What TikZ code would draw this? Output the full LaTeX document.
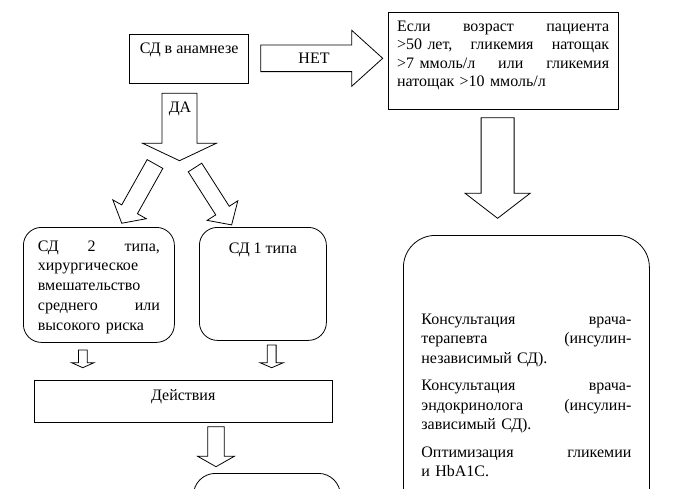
\documentclass[tikz,border=0pt]{standalone}
\usepackage{fontspec}
\setmainfont{Liberation Serif}
\usetikzlibrary{calc}

% glue that beats the ragged right of the node, for justified lines
\newcommand{\wgap}{\hskip 0pt plus 1filll\relax}

% hollow block arrow: start, tip, half shaft, half head, head length (pt)
\newcommand{\blockarrow}[5]{%
  \path let \p1=($(#2)-(#1)$) in
    \pgfextra{\pgfmathsetmacro\arrlen{veclen(\x1,\y1)}%
      \pgfmathsetmacro\arrang{atan2(\y1,\x1)}%
      \global\let\arrlen\arrlen \global\let\arrang\arrang};
  \draw[barrow, shift={(#1)}, rotate=\arrang]
    (0pt,#3pt) -- ({\arrlen pt-#5pt},#3pt) -- ({\arrlen pt-#5pt},#4pt)
    -- (\arrlen pt,0pt) -- ({\arrlen pt-#5pt},-#4pt)
    -- ({\arrlen pt-#5pt},-#3pt) -- (0pt,-#3pt) -- cycle;
}

\begin{document}
\begin{tikzpicture}[
  x=1pt, y=-1pt,
  box/.style={draw, line width=0.8pt, inner xsep=0pt, inner ysep=0pt,
              anchor=north west, font=\fontsize{16}{19}\selectfont},
  roundbox/.style={box, rounded corners=18pt},
  barrow/.style={draw, line width=0.8pt, fill=white, line join=miter},
  lbl/.style={inner sep=0pt, font=\fontsize{16}{19}\selectfont}
]
  \useasboundingbox (0,0) rectangle (694,488);
  \clip (0,0) rectangle (694,488);

  % left branch
  \node[box, minimum width=119pt, text height=19.3pt, text depth=30.3pt]
    (anam) at (129.3,33.7) {СД в анамнезе};
  \node[roundbox, text width=122pt, inner xsep=14.5pt, align=left,
        text height=23.7pt, text depth=91.3pt,
        font=\fontsize{16}{19.8}\selectfont] (type2) at (23,227)
    {СД\wgap 2\wgap типа,\\
     хирургическое\\
     вмешательство\\
     среднего\wgap или\\
     высокого риска};
  \node[roundbox, minimum width=127pt, text height=26.3pt, text depth=86.7pt]
    (type1) at (199,227) {СД 1 типа};
  \node[box, minimum width=297.7pt, text height=20pt, text depth=21.7pt]
    (act) at (34,380) {Действия};
  \node[roundbox, rounded corners=22pt, minimum width=147pt, minimum height=80pt]
    (next) at (193,473) {};

  % right branch
  \node[box, text width=212pt, inner xsep=8.75pt, align=left,
        text height=19pt, text depth=78pt,
        font=\fontsize{16}{18.3}\selectfont] (cond) at (388,12)
    {Если\wgap возраст\wgap пациента\\
     >50 лет,\wgap гликемия\wgap натощак\\
     >7 ммоль/л\wgap или\wgap гликемия\\
     натощак >10 ммоль/л};
  \node[roundbox, rounded corners=32pt, minimum width=246pt,
        text width=210pt, inner xsep=18pt, align=left,
        text height=89pt, text depth=300pt,
        font=\fontsize{16}{19.3}\selectfont] (consult) at (403,235)
    {Консультация\wgap врача-\\
     терапевта\wgap (инсулин-\\
     независимый СД).\\[8.5pt]
     Консультация\wgap врача-\\
     эндокринолога\wgap (инсулин-\\
     зависимый СД).\\[8.5pt]
     Оптимизация\wgap гликемии\\
     и HbA1C.};

  % arrow ends
  \coordinate (netS) at (260.7,58.3);  \coordinate (netE) at (382.7,58.3);
  \coordinate (daS)  at (179.5,93.3);  \coordinate (daE)  at (179.5,160.7);
  \coordinate (lS)   at (155,164);     \coordinate (lE)   at (121.7,223.3);
  \coordinate (rS)   at (195,167.5);   \coordinate (rE)   at (231.7,225);
  \coordinate (cS)   at (497.6,117.7); \coordinate (cE)   at (497.6,218.3);
  \coordinate (t2S)  at (82.8,350);    \coordinate (t2E)  at (82.8,367.7);
  \coordinate (t1S)  at (271.7,345);   \coordinate (t1E)  at (271.7,367.7);
  \coordinate (aS)   at (216,426.7);   \coordinate (aE)   at (216,466.7);

  \blockarrow{netS}{netE}{13.3}{28}{31}
  \blockarrow{daS}{daE}{17.5}{37}{17.5}
  \blockarrow{lS}{lE}{9}{19.2}{16}
  \blockarrow{rS}{rE}{8}{18.2}{17}
  \blockarrow{cS}{cE}{16.5}{32.5}{25}
  \blockarrow{t2S}{t2E}{4.4}{11.2}{5}
  \blockarrow{t1S}{t1E}{4.4}{11.7}{5}
  \blockarrow{aS}{aE}{8.3}{18.5}{10.5}

  \node[lbl] (net) at (314,58) {НЕТ};
  \node[lbl] (da) at (180,109) {ДА};
\end{tikzpicture}
\end{document}
